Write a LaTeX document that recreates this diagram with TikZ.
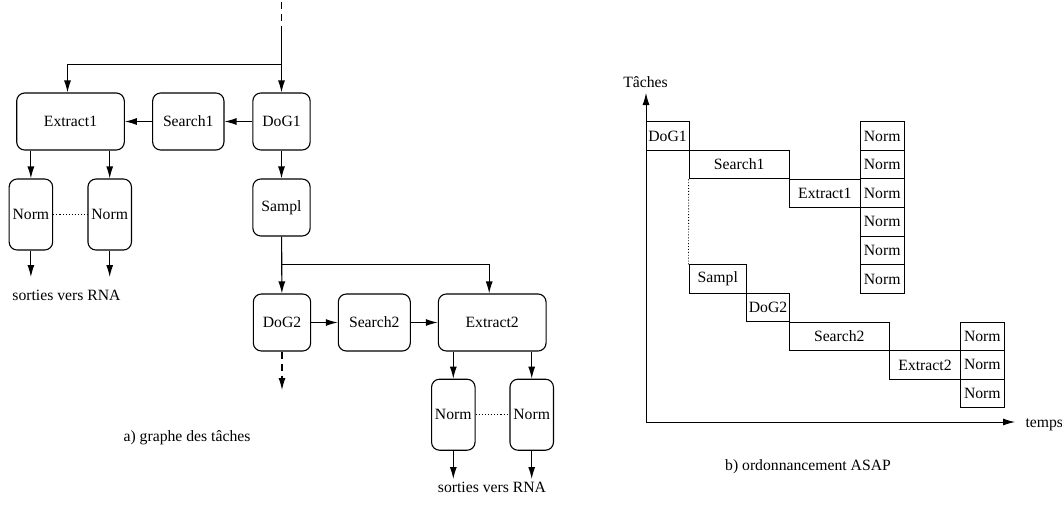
\documentclass[tikz,border=0pt]{standalone}
\usepackage{fontspec}
\setmainfont{Liberation Serif}
\usetikzlibrary{arrows.meta}

\tikzset{
  task/.style={draw, rounded corners=8pt, inner sep=0pt, minimum height=57pt},
  normbox/.style={draw, rounded corners=8pt, inner sep=0pt, minimum width=43.5pt, minimum height=71pt},
  slot/.style={draw, inner sep=0pt, minimum height=28.6pt},
  arr/.style={-{Latex[length=12pt,width=7pt]}},
  longdash/.style={dash pattern=on 7pt off 5pt},
}

\begin{document}
\begin{tikzpicture}[x=1pt, y=-1pt, line width=1.1pt, font=\rmfamily\fontsize{15.7}{19}\selectfont]
    \useasboundingbox (0,0) rectangle (1062,507);

    % a) graphe des taches
    \node[task, minimum width=107.6pt] (extract1) at (70.5,121.5) {Extract1};
    \node[task, minimum width=71.3pt] (search1) at (188.3,121.5) {Search1};
    \node[task, minimum width=57.3pt] (dog1) at (281.5,121.5) {DoG1};
    \node[task, minimum width=57.3pt] (sampl) at (281.5,207.5) {Sampl};
    \node[normbox] (norm1) at (30.9,214.5) {Norm};
    \node[normbox] (norm2) at (109.7,214.5) {Norm};
    \node[task, minimum width=57.3pt] (dog2) at (282,322.5) {DoG2};
    \node[task, minimum width=72pt] (search2) at (374.3,322.5) {Search2};
    \node[task, minimum width=107.7pt] (extract2) at (492.2,322.5) {Extract2};
    \node[normbox] (norm3) at (453.3,414.7) {Norm};
    \node[normbox] (norm4) at (531.7,414.7) {Norm};

    \coordinate (top) at (281.5,2);
    \coordinate (solid1) at (281.5,30);
    \coordinate (split1) at (281.5,64.5);
    \coordinate (split2) at (281.5,264.5);
    \coordinate (dog2out) at (282,390);
    \coordinate (out1) at (30.9,277);
    \coordinate (out2) at (109.7,277);
    \coordinate (out3) at (453.3,479);
    \coordinate (out4) at (531.7,479);

    \draw[longdash] (top) -- (solid1);
    \draw[arr] (solid1) -- (dog1);
    \draw[arr] (split1) -| ([xshift=-3pt]extract1.north);
    \draw[arr] (dog1) -- (search1);
    \draw[arr] (search1) -- (extract1);
    \draw[arr] (norm1 |- extract1.south) -- (norm1);
    \draw[arr] (norm2 |- extract1.south) -- (norm2);
    \draw[dotted] (norm1) -- (norm2);
    \draw[arr] (norm1) -- (out1);
    \draw[arr] (norm2) -- (out2);
    \draw[arr] (dog1) -- (sampl);
    \draw[arr] (sampl) -- (dog2);
    \draw[arr] (split2) -| ([xshift=-3pt]extract2.north);
    \draw[arr] (dog2) -- (search2);
    \draw[arr] (search2) -- (extract2);
    \draw[arr, longdash] (dog2) -- (dog2out);
    \draw[arr] (norm3 |- extract2.south) -- (norm3);
    \draw[arr] (norm4 |- extract2.south) -- (norm4);
    \draw[dotted] (norm3) -- (norm4);
    \draw[arr] (norm3) -- (out3);
    \draw[arr] (norm4) -- (out4);

    \node (lbl-out1) at (66.5,295) {sorties vers RNA};
    \node (lbl-out2) at (492,487) {sorties vers RNA};
    \node (caption-a) at (187,438) {a) graphe des tâches};

    % b) ordonnancement ASAP
    \begin{scope}[line width=0.9pt]
    \node[slot, minimum width=43pt] (g-dog1) at (667.5,136) {DoG1};
    \node[slot, minimum width=100.3pt] (g-search1) at (739.2,164.6) {Search1};
    \node[slot, minimum width=71pt] (g-extract1) at (824.8,193.3) {Extract1};
    \node[slot, minimum width=57.7pt] (g-sampl) at (717.8,279) {Sampl};
    \node[slot, minimum width=42.6pt] (g-dog2) at (768,307.6) {DoG2};
    \node[slot, minimum width=100pt] (g-search2) at (839.3,336.3) {Search2};
    \node[slot, minimum width=71.4pt] (g-extract2) at (925,365) {Extract2};
    \foreach \i in {0,...,5}
      \node[slot, minimum width=43.7pt] (g-norm1-\i) at (882.2,136+\i*28.6) {Norm};
    \foreach \i in {0,...,2}
      \node[slot, minimum width=43.3pt] (g-norm2-\i) at (982.3,336.3+\i*28.6) {Norm};
    \draw[dotted] (g-search1.south west) -- (g-sampl.north west);

    \coordinate (origin) at (646,422);
    \coordinate (ytop) at (646,93);
    \coordinate (xend) at (1015,422);
    \draw[arr] (origin) -- (ytop);
    \draw[arr] (origin) -- (xend);
    \end{scope}

    \node (lbl-taches) at (645.5,82) {Tâches};
    \node[anchor=west, inner sep=0pt] (lbl-temps) at (1025,425) {temps};
    \node (caption-b) at (808,467) {b) ordonnancement ASAP};
\end{tikzpicture}
\end{document}
